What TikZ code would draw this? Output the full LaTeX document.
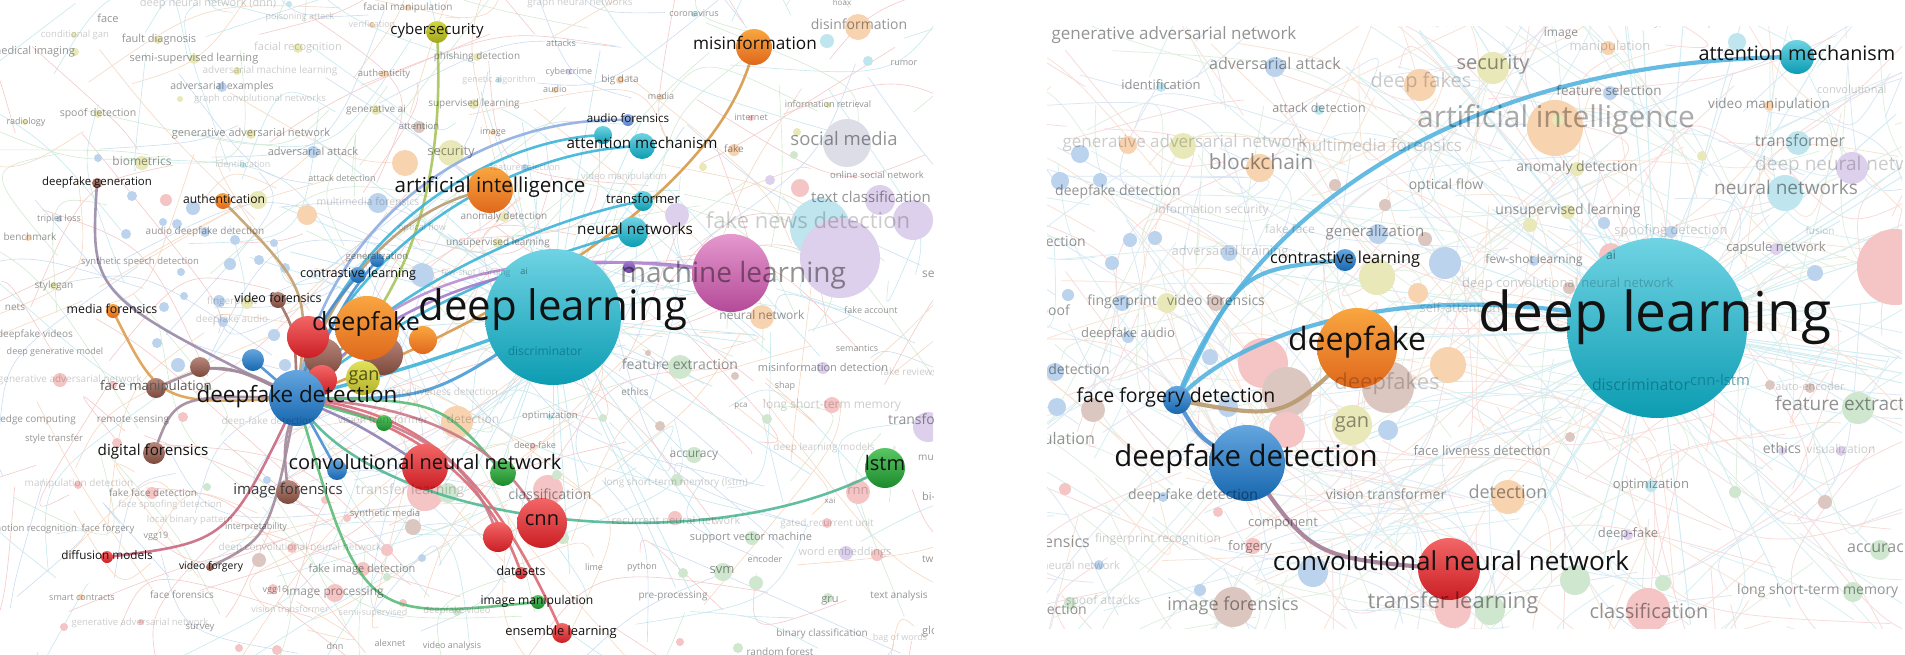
\documentclass[tikz,border=0pt]{standalone}
\usepackage{fontspec}
\setmainfont{Open Sans}
\pgfdeclarelayer{back}
\pgfdeclarelayer{lines}
\pgfsetlayers{back,lines,main}
\newcommand\fsz[1]{\fontsize{#1}{#1}\selectfont}
\newcounter{bgn}
\newcommand\bgL[5][mid]{\stepcounter{bgn}\node[bgl,anchor=#1,font=\fsz{#4}] (bg\arabic{bgn}) at (#2,#3) {#5};}
\newcommand\bgV[5][mid]{\stepcounter{bgn}\node[bgv,anchor=#1,font=\fsz{#4}] (bg\arabic{bgn}) at (#2,#3) {#5};}
\newcommand\dt[4]{\fill[#4] (#1,#2) circle[radius=#3pt];}
% node colours
\definecolor{tealA}{HTML}{6FD3E3}\definecolor{tealB}{HTML}{0C9CB2}
\definecolor{orgA}{HTML}{F9A640}\definecolor{orgB}{HTML}{DF681C}
\definecolor{bluA}{HTML}{64A6DF}\definecolor{bluB}{HTML}{1766AE}
\definecolor{redA}{HTML}{F36666}\definecolor{redB}{HTML}{CA1E24}
\definecolor{brnA}{HTML}{B8887C}\definecolor{brnB}{HTML}{7C483C}
\definecolor{grnA}{HTML}{58C662}\definecolor{grnB}{HTML}{1C8A2C}
\definecolor{ylwA}{HTML}{E2E15C}\definecolor{ylwB}{HTML}{B3B12A}
\definecolor{cybA}{HTML}{D4D63E}\definecolor{cybB}{HTML}{A2A61C}
\definecolor{purA}{HTML}{A07AD0}\definecolor{purB}{HTML}{6C42A2}
\definecolor{pnkA}{HTML}{E598CE}\definecolor{pnkB}{HTML}{B44A98}
\definecolor{lbA}{HTML}{9DB8EA}\definecolor{lbB}{HTML}{5C82CC}
% connector colours
\definecolor{cMv}{HTML}{9A8AA8}\definecolor{cTan}{HTML}{C2A070}
\definecolor{cOr}{HTML}{DCA050}\definecolor{cBr}{HTML}{9E6E66}
\definecolor{cMv2}{HTML}{A28A9C}\definecolor{cRp}{HTML}{C86A80}
\definecolor{cCy}{HTML}{A8C45A}\definecolor{cOr2}{HTML}{D69A4A}
\definecolor{cLb}{HTML}{8EAEE2}\definecolor{cTl}{HTML}{3DB4D8}
\definecolor{cTan2}{HTML}{B89C72}\definecolor{cBl2}{HTML}{4A9CD6}
\definecolor{cPu}{HTML}{A27CCB}\definecolor{cPu2}{HTML}{B98ED2}
\definecolor{cTg}{HTML}{52B896}\definecolor{cGr}{HTML}{5CBC78}
\definecolor{cRd}{HTML}{DC6A74}\definecolor{cRd2}{HTML}{C97A8C}
\definecolor{cMv3}{HTML}{8E80B4}\definecolor{cBl}{HTML}{4A8ED2}
\definecolor{cLb2}{HTML}{55B4DE}\definecolor{cTanR}{HTML}{B89A6E}
\definecolor{cMvR}{HTML}{A47C96}
% faint colours
\definecolor{fl0}{HTML}{F6D8C0}\definecolor{fl1}{HTML}{CCDDF1}
\definecolor{fl2}{HTML}{F5CACA}\definecolor{fl3}{HTML}{D3EAD3}
\definecolor{fl4}{HTML}{C6E8EE}
\definecolor{fr0}{HTML}{F8E2D2}\definecolor{fr1}{HTML}{DAE6F4}
\definecolor{fr2}{HTML}{F8DADA}\definecolor{fr3}{HTML}{DFEFDF}
\definecolor{fr4}{HTML}{D6EEF2}
\definecolor{dL}{HTML}{BCD3EE}\definecolor{dO}{HTML}{F8D3B0}
\definecolor{dP}{HTML}{F5C4C4}\definecolor{dG}{HTML}{CFE6CF}
\definecolor{dT}{HTML}{BFE6EE}\definecolor{dY}{HTML}{E8E8B8}
\definecolor{dV}{HTML}{DDD0EC}\definecolor{dB}{HTML}{DCC6C0}
\definecolor{dS}{HTML}{DDDDE8}\definecolor{radT}{HTML}{C8EAF0}
\definecolor{radR}{HTML}{D3EEF3}
\tikzset{
  nd/.style 2 args={circle, inner sep=0pt, minimum size=#2*2pt, top color=#1A, bottom color=#1B, draw=none},
  lab/.style={inner sep=0pt, anchor=mid, text=black!93},
  bgl/.style={inner sep=0pt, text=black, opacity=.42},
  bgv/.style={inner sep=0pt, text=black, opacity=.2},
  con/.style={line width=2.6pt, line cap=round, opacity=.9},
  conR/.style={line width=4.2pt, line cap=round, opacity=.9},
}
\begin{document}
\begin{tikzpicture}[x=1pt,y=-1pt]
\useasboundingbox (0,0) rectangle (1905,654);

%================ LEFT PANEL: highlighted nodes =================
\node[nd={brn}{19}] (b1) at (323,357) {};
\node[nd={red}{15}] (r2) at (322,380) {};
\node[nd={red}{21}] (r1) at (308,337) {};
\node[nd={brn}{20}] (b2) at (383,355) {};
\node[nd={org}{32}] (df) at (367,328) {};
\node[nd={ylw}{17}] (gan) at (363,378) {};
\node[nd={org}{14}] (o2) at (423,340) {};
\node[nd={blu}{11}] (bl1) at (253,360) {};
\node[nd={brn}{10}] (b3) at (200,367) {};
\node[nd={blu}{28}] (dd) at (297,398) {};
\node[nd={teal}{68}] (dl) at (553,317) {};
\node[nd={pnk}{39}] (ml) at (731,273) {};
\node[nd={pur}{6}] (pu1) at (629,267) {};
\node[nd={org}{23}] (ai) at (490,190) {};
\node[nd={red}{23}] (cnnv) at (425,467) {};
\node[nd={blu}{10}] (bl2) at (337,470) {};
\node[nd={grn}{13}] (g1) at (503,473) {};
\node[nd={grn}{8}] (g2) at (384,423) {};
\node[nd={red}{15}] (r3) at (498,537) {};
\node[nd={red}{25}] (cnn) at (542,523) {};
\node[nd={grn}{20}] (lstm) at (885,468) {};
\node[nd={org}{18}] (misinfo) at (754,47) {};
\node[nd={cyb}{11}] (cyber) at (437,32) {};
\node[nd={teal}{13}] (attn) at (642,146) {};
\node[nd={teal}{9}] (t0) at (603,135) {};
\node[nd={lb}{6}] (audf) at (628,120) {};
\node[nd={teal}{10}] (trans) at (643,201) {};
\node[nd={teal}{15}] (nn) at (633,232) {};
\node[nd={blu}{8}] (cl) at (358,275) {};
\node[nd={blu}{7}] (gen) at (377,260) {};
\node[nd={brn}{8}] (vf) at (278,300) {};
\node[nd={org}{8}] (auth) at (223,201) {};
\node[nd={brn}{5}] (dfg) at (97,183) {};
\node[nd={org}{7}] (mf) at (113,311) {};
\node[nd={brn}{10}] (fm) at (156,388) {};
\node[nd={brn}{11}] (dfor) at (154,453) {};
\node[nd={brn}{12}] (imf) at (288,492) {};
\node[nd={red}{6}] (diff) at (107,557) {};
\node[nd={brn}{4}] (vfg) at (210,567) {};
\node[nd={red}{6}] (ds) at (521,573) {};
\node[nd={grn}{7}] (im) at (538,602) {};
\node[nd={red}{10}] (el) at (562,633) {};

%================ RIGHT PANEL: highlighted nodes =================
\node[nd={teal}{90}] (dl2) at (1657,328) {};
\node[nd={org}{40}] (df2) at (1357,348) {};
\node[nd={blu}{38}] (dd2) at (1247,463) {};
\node[nd={blu}{14}] (ffd) at (1177,400) {};
\node[nd={blu}{11}] (cl2) at (1345,260) {};
\node[nd={teal}{17}] (attn2) at (1797,57) {};
\node[nd={red}{31}] (cnnv2) at (1449,569) {};

%================ BACKGROUND LAYER =================
\begin{pgfonlayer}{back}
\fill[white] (0,0) rectangle (1905,654);
\begin{scope}
\clip (0,0) rectangle (933,654);
\pgfmathsetseed{2024}
\foreach \i in {1,...,330}{%
  \pgfmathsetmacro\xa{rnd*930}\pgfmathsetmacro\ya{rnd*654}%
  \pgfmathsetmacro\xb{\xa+(rnd-0.5)*520}\pgfmathsetmacro\yb{\ya+(rnd-0.5)*420}%
  \pgfmathsetmacro\cx{(\xa+\xb)/2+(rnd-0.5)*160}\pgfmathsetmacro\cy{(\ya+\yb)/2+(rnd-0.5)*160}%
  \pgfmathtruncatemacro\k{rnd*5}%
  \draw[draw=fl\k, line width=.6pt] (\xa,\ya) .. controls (\cx,\cy) .. (\xb,\yb);
}
\foreach \i in {1,...,40}{%
  \pgfmathsetmacro\ang{rnd*360}\pgfmathsetmacro\len{90+rnd*220}%
  \draw[radT, line width=.8pt] (dl.center) -- ++(\ang:\len);
}
% faint circles
\dt{847}{143}{24}{dS}\dt{858}{27}{13}{dO}\dt{820}{228}{30}{dT}\dt{840}{258}{40}{dV}
\dt{880}{200}{15}{dV}\dt{913}{220}{20}{dV}\dt{762}{317}{12}{dO}\dt{451}{153}{13}{dY}
\dt{405}{163}{13}{dO}\dt{378}{203}{10}{dL}\dt{422}{275}{12}{dL}\dt{419}{127}{6}{dB}
\dt{548}{490}{15}{dP}\dt{425}{493}{18}{dP}\dt{448}{493}{10}{dG}\dt{680}{367}{12}{dG}
\dt{694}{455}{8}{dG}\dt{723}{572}{9}{dG}\dt{858}{492}{12}{dP}\dt{457}{422}{16}{dO}
\dt{413}{527}{8}{dB}\dt{928}{427}{15}{dV}\dt{827}{41}{7}{dT}\dt{868}{61}{5}{dT}
\dt{734}{150}{6}{dO}\dt{770}{180}{5}{dV}\dt{800}{188}{9}{dP}\dt{677}{215}{12}{dV}
\dt{703}{167}{4}{dY}\dt{797}{132}{4}{dY}\dt{794}{155}{4}{dG}\dt{307}{215}{10}{dO}
\dt{258}{200}{9}{dY}\dt{98}{158}{4}{dL}\dt{132}{196}{5}{dL}\dt{166}{200}{6}{dP}
\dt{193}{208}{7}{dL}\dt{163}{222}{4}{dL}\dt{177}{224}{5}{dL}\dt{126}{234}{5}{dL}
\dt{205}{232}{5}{dL}\dt{235}{240}{5}{dL}\dt{274}{243}{4}{dL}\dt{259}{260}{5}{dL}
\dt{230}{264}{6}{dL}\dt{285}{268}{5}{dL}\dt{181}{272}{4}{dL}\dt{184}{296}{4}{dL}
\dt{219}{301}{6}{dL}\dt{247}{303}{6}{dY}\dt{164}{307}{5}{dL}\dt{223}{322}{5}{dL}
\dt{157}{343}{5}{dL}\dt{178}{365}{7}{dL}\dt{274}{335}{6}{dL}\dt{285}{365}{6}{dL}
\dt{60}{380}{7}{dP}\dt{113}{385}{4}{dP}\dt{183}{417}{5}{dP}\dt{117}{443}{5}{dP}
\dt{78}{485}{4}{dP}\dt{152}{493}{6}{dP}\dt{207}{487}{4}{dG}\dt{267}{480}{4}{dL}
\dt{292}{548}{5}{dP}\dt{259}{560}{7}{dB}\dt{273}{589}{5}{dP}\dt{81}{597}{3}{dO}
\dt{64}{627}{4}{dP}\dt{141}{622}{3}{dP}\dt{239}{648}{4}{dP}\dt{277}{650}{5}{dP}
\dt{325}{500}{4}{dP}\dt{347}{518}{4}{dP}\dt{387}{550}{6}{dP}\dt{422}{558}{4}{dL}
\dt{363}{569}{7}{dP}\dt{387}{577}{4}{dG}\dt{335}{593}{9}{dP}\dt{403}{603}{4}{dP}
\dt{457}{612}{4}{dG}\dt{603}{418}{4}{dG}\dt{550}{417}{3}{dT}\dt{533}{446}{3}{dP}
\dt{557}{475}{5}{dG}\dt{563}{538}{6}{dG}\dt{648}{353}{3}{dB}\dt{735}{376}{4}{dB}
\dt{823}{368}{6}{dV}\dt{832}{405}{8}{dP}\dt{767}{419}{5}{dG}\dt{660}{426}{5}{dB}
\dt{677}{480}{6}{dG}\dt{675}{518}{7}{dP}\dt{827}{523}{5}{dP}\dt{752}{538}{7}{dG}
\dt{846}{553}{7}{dV}\dt{877}{555}{6}{dP}\dt{683}{573}{5}{dG}\dt{756}{583}{7}{dG}
\dt{828}{598}{5}{dG}\dt{680}{642}{4}{dP}\dt{738}{648}{5}{dG}\dt{75}{52}{4}{dY}
\dt{74}{35}{3}{dY}\dt{158}{40}{4}{dY}\dt{194}{59}{5}{dY}\dt{237}{71}{4}{dY}
\dt{222}{87}{5}{dL}\dt{180}{99}{3}{dY}\dt{98}{114}{4}{dY}\dt{25}{122}{3}{dY}
\dt{251}{134}{5}{dY}\dt{313}{152}{6}{dL}\dt{142}{163}{7}{dY}\dt{243}{165}{3}{dT}
\dt{59}{219}{3}{dL}\dt{28}{238}{3}{dO}\dt{54}{286}{4}{dY}\dt{289}{4}{3}{dT}
\dt{298}{48}{5}{dY}\dt{408}{8}{3}{dO}\dt{372}{25}{3}{dO}\dt{477}{57}{4}{dY}
\dt{384}{74}{4}{dO}\dt{569}{72}{3}{dV}\dt{620}{80}{4}{dO}\dt{499}{80}{3}{dT}
\dt{555}{90}{3}{dO}\dt{474}{104}{5}{dY}\dt{661}{97}{3}{dO}\dt{376}{110}{5}{dY}
\dt{493}{132}{3}{dO}\dt{525}{168}{4}{dL}\dt{504}{217}{5}{dY}\dt{498}{243}{5}{dY}
\dt{694}{14}{3}{dT}\dt{828}{105}{3}{dY}\dt{751}{118}{3}{dP}
\end{scope}
\begin{scope}
\clip (1047,26) rectangle (1902,628);
\pgfmathsetseed{777}
\foreach \i in {1,...,420}{%
  \pgfmathsetmacro\xa{1047+rnd*855}\pgfmathsetmacro\ya{26+rnd*602}%
  \pgfmathsetmacro\xb{\xa+(rnd-0.5)*700}\pgfmathsetmacro\yb{\ya+(rnd-0.5)*560}%
  \pgfmathsetmacro\cx{(\xa+\xb)/2+(rnd-0.5)*220}\pgfmathsetmacro\cy{(\ya+\yb)/2+(rnd-0.5)*220}%
  \pgfmathtruncatemacro\k{rnd*5}%
  \draw[draw=fr\k, line width=.75pt] (\xa,\ya) .. controls (\cx,\cy) .. (\xb,\yb);
}
\foreach \i in {1,...,50}{%
  \pgfmathsetmacro\ang{rnd*360}\pgfmathsetmacro\len{120+rnd*330}%
  \draw[radR, line width=1pt] (dl2.center) -- ++(\ang:\len);
}
\dt{1555}{128}{28}{dO}\dt{1420}{85}{16}{dO}\dt{1493}{68}{16}{dY}\dt{1275}{67}{10}{dL}
\dt{1183}{146}{13}{dY}\dt{1128}{145}{9}{dO}\dt{1080}{154}{9}{dL}\dt{1260}{168}{14}{dO}
\dt{1100}{180}{7}{dL}\dt{1445}{263}{16}{dL}\dt{1377}{277}{18}{dY}\dt{1418}{293}{10}{dO}
\dt{1798}{143}{12}{dT}\dt{1852}{168}{16}{dV}\dt{1785}{193}{18}{dT}\dt{1895}{267}{38}{dP}
\dt{1815}{273}{8}{dL}\dt{1737}{42}{9}{dT}\dt{1608}{48}{7}{dO}\dt{1263}{363}{25}{dP}
\dt{1287}{392}{25}{dB}\dt{1287}{430}{18}{dP}\dt{1352}{425}{20}{dY}\dt{1388}{387}{26}{dB}
\dt{1448}{365}{18}{dO}\dt{1388}{430}{10}{dL}\dt{1313}{572}{15}{dL}\dt{1233}{607}{20}{dB}
\dt{1453}{610}{18}{dP}\dt{1490}{610}{15}{dG}\dt{1575}{580}{15}{dG}\dt{1648}{610}{22}{dP}
\dt{1508}{497}{17}{dO}\dt{1858}{408}{16}{dG}\dt{1663}{583}{8}{dG}\dt{1735}{492}{6}{dG}
\dt{1825}{502}{7}{dB}\dt{1880}{550}{10}{dG}\dt{1853}{592}{10}{dG}\dt{1057}{407}{9}{dL}
\dt{1093}{410}{12}{dB}\dt{1055}{372}{9}{dL}\dt{1210}{357}{8}{dL}\dt{1128}{337}{6}{dL}
\dt{1228}{407}{10}{dL}\dt{1065}{489}{6}{dP}\dt{1218}{512}{5}{dP}\dt{1253}{546}{8}{dP}
\dt{1099}{565}{5}{dL}\dt{1200}{590}{6}{dL}\dt{1070}{603}{6}{dG}\dt{1163}{497}{5}{dL}
\dt{1175}{146}{6}{dY}\dt{1161}{87}{5}{dT}\dt{1319}{110}{5}{dT}\dt{1335}{185}{6}{dB}
\dt{1385}{205}{6}{dB}\dt{1378}{234}{10}{dL}\dt{1425}{239}{7}{dB}\dt{1130}{240}{7}{dL}
\dt{1060}{181}{9}{dL}\dt{1112}{263}{7}{dL}\dt{1229}{253}{8}{dL}\dt{1155}{238}{7}{dL}
\dt{1122}{303}{8}{dL}\dt{1167}{303}{10}{dY}\dt{1216}{303}{8}{dB}\dt{1068}{295}{6}{dL}
\dt{1610}{93}{7}{dL}\dt{1577}{169}{7}{dY}\dt{1568}{212}{7}{dY}\dt{1530}{225}{7}{dY}
\dt{1604}{223}{6}{dL}\dt{1671}{232}{6}{dL}\dt{1776}{249}{6}{dV}\dt{1534}{261}{5}{dL}
\dt{1611}{255}{12}{dP}\dt{1702}{156}{5}{dY}\dt{1769}{106}{5}{dO}\dt{1558}{120}{6}{dY}
\dt{1569}{288}{6}{dB}\dt{1770}{385}{5}{dB}\dt{1810}{388}{5}{dB}\dt{1841}{451}{5}{dV}
\dt{1570}{437}{5}{dB}\dt{1651}{486}{6}{dT}\dt{1628}{535}{5}{dV}\dt{1782}{451}{4}{dV}
\end{scope}
\end{pgfonlayer}

%================ CONNECTORS =================
\begin{pgfonlayer}{lines}
% left panel
\draw[con, cMv] (dd.center) .. controls (90,295) .. (dfg.center);
\draw[con, cTan] (dd.center) .. controls (310,290) .. (auth.center);
\draw[con, cOr] (dd.center) .. controls (160,405) .. (mf.center);
\draw[con, cBr] (dd.center) .. controls (295,330) .. (vf.center);
\draw[con, cMv2] (dd.center) .. controls (220,360) .. (fm.center);
\draw[con, cMv2] (dd.center) .. controls (250,372) .. (b3.center);
\draw[con, cMv2] (dd.center) .. controls (175,395) .. (dfor.center);
\draw[con, cMv2] (dd.center) .. controls (283,445) .. (imf.center);
\draw[con, cRp] (dd.center) .. controls (228,542) .. (diff.center);
\draw[con, cMv2] (dd.center) .. controls (270,537) .. (vfg.center);
\draw[con, cCy] (dd.center) .. controls (400,320) and (447,200) .. (cyber.center);
\draw[con, cOr2] (dd.center) .. controls (480,330) and (720,200) .. (misinfo.center);
\draw[con, cLb] (dd.center) .. controls (320,230) and (470,115) .. (audf.center);
\draw[con, cTl] (dd.center) .. controls (330,245) and (480,140) .. (t0.center);
\draw[con, cTl] (dd.center) .. controls (345,255) and (500,150) .. (attn.center);
\draw[con, cTan2] (dd.center) .. controls (330,270) and (420,200) .. (ai.center);
\draw[con, cTl] (dd.center) .. controls (380,285) and (560,215) .. (trans.center);
\draw[con, cTl] (dd.center) .. controls (400,305) and (560,250) .. (nn.center);
\draw[con, cTl, line width=3.4pt] (dd.center) .. controls (420,365) .. (dl.center);
\draw[con, cBl2, line width=3pt] (dd.center) .. controls (430,400) .. (dl.center);
\draw[con, cPu] (dd.center) .. controls (400,285) and (560,240) .. (ml.center);
\draw[con, cPu2] (df.center) .. controls (450,265) and (560,248) .. (ml.center);
\draw[con, cTg] (dd.center) .. controls (360,520) and (700,570) .. (lstm.center);
\draw[con, cGr] (dd.center) .. controls (362,620) .. (im.center);
\draw[con, cGr] (dd.center) .. controls (440,400) .. (g1.center);
\draw[con, cRd] (dd.center) .. controls (420,410) and (490,470) .. (el.center);
\draw[con, cRd] (dd.center) .. controls (410,420) and (490,480) .. (ds.center);
\draw[con, cRd2] (dd.center) .. controls (400,420) and (470,450) .. (r3.center);
\draw[con, cRd2] (dd.center) .. controls (420,405) and (500,440) .. (cnn.center);
\draw[con, cMv3] (dd.center) .. controls (360,425) .. (cnnv.center);
\draw[con, cBl] (dd.center) -- (bl2.center);
\draw[con, cGr] (dd.center) -- (g2.center);
\draw[con, cBl] (dd.center) .. controls (320,320) .. (cl.center);
\draw[con, cBl] (dd.center) .. controls (345,300) .. (gen.center);
\draw[con, cBl] (dd.center) -- (bl1.center);
% right panel
\draw[conR, cTanR] (ffd.center) .. controls (1283,420) .. (df2.center);
\draw[conR, cBl] (ffd.center) .. controls (1200,440) .. (dd2.center);
\draw[conR, cLb2] (ffd.center) .. controls (1239,270) .. (cl2.center);
\draw[conR, cLb2] (ffd.center) .. controls (1230,250) and (1420,60) .. (attn2.center);
\draw[conR, cLb2] (ffd.center) .. controls (1240,330) and (1420,270) .. (dl2.center);
\draw[conR, cMvR] (dd2.center) .. controls (1312,558) .. (cnnv2.center);
\end{pgfonlayer}

%================ FAINT LABELS (left) =================
\begin{scope}
\clip (0,0) rectangle (933,654);
\bgV{208}{4}{11}{deep neural network (dnn)}
\bgL{108}{20}{11}{face}
\bgV{300}{17}{9}{poisoning attack}
\bgV{75}{35}{9.5}{conditional gan}
\bgL{159}{40}{11}{fault diagnosis}
\bgV{298}{48}{11}{facial recognition}
\bgL{33}{52}{11}{medical imaging}
\bgL{194}{59}{11}{semi-supervised learning}
\bgV{270}{71}{10}{adversarial machine learning}
\bgL{222}{87}{10.5}{adversarial examples}
\bgV{260}{99}{9.5}{graph convolutional networks}
\bgL{98}{114}{10.5}{spoof detection}
\bgL{26}{122}{9}{radiology}
\bgL{251}{134}{11}{generative adversarial network}
\bgL{313}{153}{11}{adversarial attack}
\bgL{142}{163}{12}{biometrics}
\bgV{243}{165}{9}{identification}
\bgL{342}{179}{9}{attack detection}
\bgL{59}{219}{9}{triplet loss}
\bgL{205}{232}{10}{audio deepfake detection}
\bgL{30}{238}{10}{benchmark}
\bgL{140}{262}{9.5}{synthetic speech detection}
\bgL{54}{286}{10}{stylegan}
\bgL{15}{308}{10}{nets}
\bgV{232}{302}{10}{fingerprint}
\bgV{232}{320}{10}{deepfake audio}
\bgL{408}{8}{10}{facial manipulation}
\bgV{580}{3}{10}{graph neural networks}
\bgV{372}{25}{9}{verification}
\bgL{561}{44}{9}{attacks}
\bgL{477}{57}{10}{phishing detection}
\bgL{384}{74}{9.5}{authenticity}
\bgL{569}{72}{9}{cybercrime}
\bgL{620}{80}{10}{big data}
\bgV{499}{80}{9}{genetic algorithm}
\bgL{555}{90}{9}{audio}
\bgL{474}{104}{10}{supervised learning}
\bgL{661}{97}{9}{media}
\bgL{376}{110}{10}{generative ai}
\bgL{419}{127}{9.5}{attention}
\bgL{493}{132}{9}{image}
\bgL{451}{153}{13}{security}
\bgV{525}{168}{9}{feature selection}
\bgV{624}{177}{9.5}{video manipulation}
\bgV{368}{203}{10.5}{multimedia forensics}
\bgL{504}{217}{10}{anomaly detection}
\bgV{422}{228}{9}{optical flow}
\bgL{498}{243}{10}{unsupervised learning}
\bgL{377}{257}{9.5}{generalization}
\bgV{476}{273}{8.5}{few-shot learning}
\bgL{524}{272}{9}{ai}
\bgL{694}{14}{9}{coronavirus}
\bgL{842}{3}{8}{hoax}
\bgL{859}{27}{14}{disinformation}
\bgL{904}{63}{9}{rumor}
\bgL{828}{105}{9}{information retrieval}
\bgL{751}{118}{9}{internet}
\bgL{734}{150}{10}{fake}
\bgL{844}{143}{18.5}{social media}
\bgL{877}{176}{9.5}{online social network}
\bgL{871}{200}{15}{text classification}
\bgV{808}{226}{22}{fake news detection}
\bgL{762}{317}{12}{neural network}
\bgL{871}{311}{9}{fake account}
\bgL[mid west]{922}{275}{12}{sentiment analysis}
\bgL{733}{280}{28}{machine learning}
\bgL{35}{335}{10}{deepfake videos}
\bgL{55}{352}{9}{deep generative model}
\bgV{70}{380}{10}{generative adversarial network}
\bgL{38}{420}{10}{edge computing}
\bgL{133}{420}{10}{remote sensing}
\bgL{54}{439}{9.5}{style transfer}
\bgV{268}{422}{10}{deep-fake detection}
\bgV{79}{484}{10}{manipulation detection}
\bgL{153}{494}{10}{fake face detection}
\bgV{170}{505}{9.5}{face spoofing detection}
\bgV{190}{520}{9.5}{local binary pattern}
\bgL{256}{527}{9}{interpretability}
\bgL{32}{529}{9.5}{emotion recognition}
\bgL{108}{529}{9.5}{face forgery}
\bgL{156}{536}{9}{vgg19}
\bgL{82}{598}{9}{smart contracts}
\bgL{182}{596}{10}{face forensics}
\bgV{140}{623}{9.5}{generative adversarial network}
\bgL{200}{627}{9.5}{survey}
\bgL{275}{590}{9}{vgg16}
\bgL{335}{593}{12}{image processing}
\bgV{290}{610}{9}{vision transformer}
\bgV{300}{548}{10}{deep convolutional neural network}
\bgL{362}{570}{11}{fake image detection}
\bgV{445}{393}{10}{face liveness detection}
\bgV{383}{421}{10.5}{vision transformer}
\bgV{473}{421}{12}{detection}
\bgL{550}{416}{9.5}{optimization}
\bgL{535}{446}{9}{deep-fake}
\bgV{410}{492}{14}{transfer learning}
\bgL{550}{497}{14}{classification}
\bgL{385}{514}{9.5}{synthetic media}
\bgV{676}{483}{10}{long short-term memory (lstm)}
\bgV{676}{522}{11}{recurrent neural network}
\bgL{594}{568}{9}{lime}
\bgV{373}{613}{9}{semi-supervised}
\bgV{457}{611}{9.5}{deepfake video}
\bgL{390}{644}{9}{alexnet}
\bgL{452}{646}{9}{video analysis}
\bgL{335}{647}{9}{dnn}
\bgL{642}{567}{9}{python}
\bgL{680}{367}{14}{feature extraction}
\bgL{857}{349}{9}{semantics}
\bgL{823}{369}{11}{misinformation detection}
\bgV[mid west]{880}{373}{10}{fake reviews}
\bgL{635}{393}{10}{ethics}
\bgL{785}{386}{9}{shap}
\bgL{741}{405}{8}{pca}
\bgV{832}{406}{12}{long short-term memory}
\bgL[mid west]{888}{422}{14}{transformers}
\bgV{824}{448}{10}{deep learning models}
\bgL{694}{455}{12}{accuracy}
\bgL[mid west]{918}{458}{10}{multimodal}
\bgV{858}{492}{13}{rnn}
\bgL{830}{501}{8}{xai}
\bgL[mid west]{922}{498}{11}{bi-lstm}
\bgV{827}{524}{10}{gated recurrent unit}
\bgL{751}{538}{11}{support vector machine}
\bgV{845}{553}{11}{word embeddings}
\bgL{765}{560}{9}{encoder}
\bgL[mid west]{922}{560}{10}{twitter}
\bgL{722}{571}{13}{svm}
\bgL{673}{596}{10}{pre-processing}
\bgL{830}{600}{11}{gru}
\bgL{899}{596}{10}{text analysis}
\bgL{822}{634}{10}{binary classification}
\bgV{900}{638}{9}{bag of words}
\bgL[mid west]{922}{632}{11}{glove}
\bgL{780}{653}{10}{random forest}
\node[bgl, anchor=mid, font=\fsz{12}, text=tealB!70!black, opacity=.7] (discr) at (545,353) {discriminator};
\end{scope}

%================ FAINT LABELS (right) =================
\begin{scope}
\clip (1047,26) rectangle (1902,628);
\bgL{1174}{37}{17}{generative adversarial network}
\bgL{1440}{24}{13}{attention}
\bgV{1695}{23}{12}{synthetic speech}
\bgL{1275}{67}{16}{adversarial attack}
\bgL{1161}{87}{13}{identification}
\bgL{1493}{67}{20}{security}
\bgV{1421}{85}{20}{deep fakes}
\bgL{1319}{110}{12.5}{attack detection}
\node[bgl, anchor=mid, font=\fsz{30}, opacity=.33] (aiR) at (1556,125) {artificial intelligence};
\bgV{1185}{145}{17}{generative adversarial network}
\bgV{1379}{149}{17}{multimedia forensics}
\bgL{1261}{167}{21}{blockchain}
\bgL{1446}{187}{14}{optical flow}
\bgL[mid west]{1055}{193}{14}{deepfake detection}
\bgV{1212}{211}{12}{information security}
\bgV{1290}{231}{12}{fake face}
\bgL{1375}{234}{15}{generalization}
\bgL[mid east]{1086}{244}{14}{detection}
\bgV{1230}{253}{13}{adversarial training}
\bgL{1122}{303}{14}{fingerprint}
\bgL{1216}{303}{14}{video forensics}
\bgL[mid east]{1070}{313}{14}{spoof}
\bgL{1561}{34}{12}{image}
\bgV{1610}{48}{13}{manipulation}
\bgL{1609}{93}{13.5}{feature selection}
\bgL{1769}{106}{13.5}{video manipulation}
\bgV[mid west]{1817}{91}{11}{convolutional}
\bgL{1577}{169}{14}{anomaly detection}
\bgL{1800}{144}{16}{transformer}
\bgV[mid west]{1755}{168}{19}{deep neural network}
\bgL{1786}{192}{19}{neural networks}
\bgL{1568}{212}{14}{unsupervised learning}
\bgV{1671}{232}{13}{spoofing detection}
\bgV{1820}{232}{10}{fusion}
\bgL{1776}{249}{13}{capsule network}
\bgL{1534}{261}{12}{few-shot learning}
\bgL{1611}{257}{12}{ai}
\bgV[mid west]{1462}{285}{13}{deep convolutional neural network}
\bgV{1460}{310}{13}{self-attention}
\bgL{1128}{335}{13}{deepfake audio}
\bgL[mid east]{1110}{372}{14}{detection}
\bgV{1387}{387}{22}{deepfakes}
\bgL{1352}{425}{20}{gan}
\bgL[mid east]{1095}{442}{16}{manipulation}
\bgL{1482}{453}{13}{face liveness detection}
\bgL{1193}{497}{14}{deep-fake detection}
\bgL{1386}{497}{14}{vision transformer}
\bgL{1283}{524}{13}{component}
\bgL[mid east]{1090}{545}{16}{digital forensics}
\bgV{1158}{540}{12}{fingerprint recognition}
\bgL{1250}{548}{13}{forgery}
\bgV[mid east]{1120}{567}{11}{neural network}
\bgV{1103}{602}{12}{spoof attacks}
\bgL[mid east]{1087}{612}{14}{detection}
\bgL{1233}{608}{18}{image forensics}
\bgL{1453}{606}{22}{transfer learning}
\bgL{1649}{616}{20}{classification}
\bgL{1628}{535}{13}{deep-fake}
\bgL{1651}{486}{13}{optimization}
\bgL{1508}{496}{18}{detection}
\bgV{1810}{388}{11}{auto-encoder}
\bgL[mid west]{1775}{408}{19}{feature extraction}
\bgL{1782}{451}{14}{ethics}
\bgV{1841}{451}{12}{visualization}
\bgL[mid west]{1847}{550}{16}{accuracy}
\bgL[mid west]{1737}{592}{14}{long short-term memory}
\node[bgl, anchor=mid, font=\fsz{15.8}, text=tealB!70!black, opacity=.7] (discr2) at (1641,388) {discriminator};
\node[bgl, anchor=mid, font=\fsz{14.8}, text=tealB!70!black, opacity=.6] (cnnlstm) at (1720,383) {cnn-lstm};
\end{scope}

%================ HIGHLIGHTED LABELS (left) =================
\node[lab, font=\fsz{42}] (dl-t) at (553,318) {deep learning};
\node[lab, font=\fsz{25}] (df-t) at (366,328) {deepfake};
\node[lab, font=\fsz{22.4}] (dd-t) at (297,400) {deepfake detection};
\node[lab, font=\fsz{20.6}] (ai-t) at (490,190) {artificial intelligence};
\node[lab, font=\fsz{20}] (cnnv-t) at (425,467) {convolutional neural network};
\node[lab, font=\fsz{20}] (cnn-t) at (542,523) {cnn};
\node[lab, font=\fsz{20}] (lstm-t) at (885,468) {lstm};
\node[lab, font=\fsz{17.2}] (misinfo-t) at (755,47) {misinformation};
\node[lab, font=\fsz{15}] (cyber-t) at (437,32) {cybersecurity};
\node[lab, font=\fsz{15.2}] (attn-t) at (642,146) {attention mechanism};
\node[lab, font=\fsz{11.6}] (audf-t) at (628,120) {audio forensics};
\node[lab, font=\fsz{13.1}] (trans-t) at (643,201) {transformer};
\node[lab, font=\fsz{15.3}] (nn-t) at (635,232) {neural networks};
\node[lab, font=\fsz{12.6}] (cl-t) at (358,275) {contrastive learning};
\node[lab, font=\fsz{12.5}] (vf-t) at (278,300) {video forensics};
\node[lab, font=\fsz{12.1}] (auth-t) at (224,201) {authentication};
\node[lab, font=\fsz{11.4}] (dfg-t) at (97,183) {deepfake generation};
\node[lab, font=\fsz{12.3}] (mf-t) at (112,311) {media forensics};
\node[lab, font=\fsz{13.3}, text=black!65] (fm-t) at (156,388) {face manipulation};
\node[lab, font=\fsz{15.2}] (dfor-t) at (153,453) {digital forensics};
\node[lab, font=\fsz{15}, text=black!78] (imf-t) at (288,492) {image forensics};
\node[lab, font=\fsz{11.7}] (diff-t) at (107,557) {diffusion models};
\node[lab, font=\fsz{10.4}] (vfg-t) at (211,567) {video forgery};
\node[lab, font=\fsz{12.4}] (ds-t) at (521,573) {datasets};
\node[lab, font=\fsz{12.1}] (im-t) at (537,602) {image manipulation};
\node[lab, font=\fsz{12.9}] (el-t) at (561,633) {ensemble learning};
\node[lab, font=\fsz{18}, text=black!55!ylwB] (gan-t) at (364,378) {gan};

%================ HIGHLIGHTED LABELS (right) =================
\node[lab, font=\fsz{55}] (dl2-t) at (1655,329) {deep learning};
\node[lab, font=\fsz{32}] (df2-t) at (1357,348) {deepfake};
\node[lab, font=\fsz{29.4}] (dd2-t) at (1246,464) {deepfake detection};
\node[lab, font=\fsz{19.5}] (ffd-t) at (1176,400) {face forgery detection};
\node[lab, font=\fsz{16.3}] (cl2-t) at (1345,261) {contrastive learning};
\node[lab, font=\fsz{19.8}] (attn2-t) at (1797,58) {attention mechanism};
\node[lab, font=\fsz{26.1}] (cnnv2-t) at (1451,568) {convolutional neural network};
\end{tikzpicture}
\end{document}
